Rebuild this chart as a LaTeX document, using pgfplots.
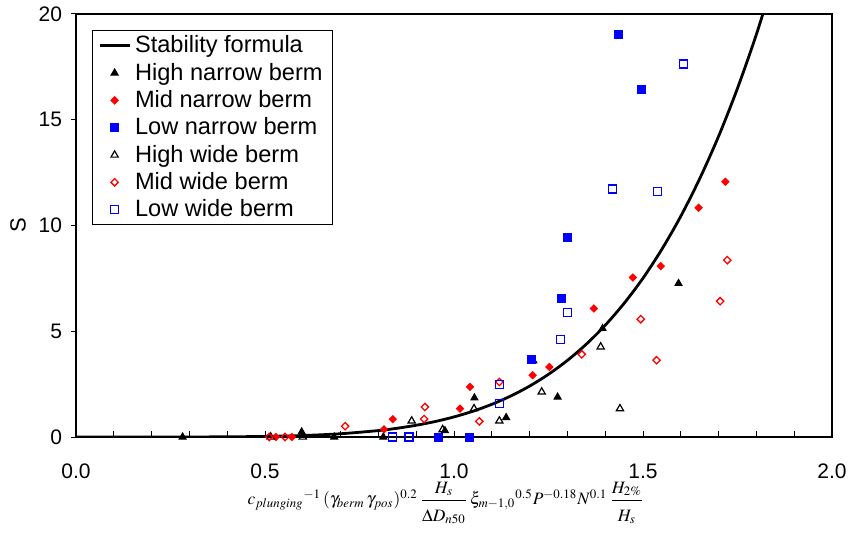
\documentclass[border=0pt]{standalone}
\usepackage{amsmath}
\usepackage{mathptmx}
\usepackage[no-math]{fontspec}
\setmainfont{Liberation Sans}
\usepackage{pgfplots}
\pgfplotsset{compat=1.18}
\definecolor{myred}{RGB}{255,0,0}
\definecolor{myblue}{RGB}{0,0,255}
\pgfplotsset{
  mylineleg/.style={legend image code/.code={\draw[##1] (0pt,0pt) -- (15pt,0pt);}},
  mymarkleg/.style={legend image code/.code={\draw[mark repeat=2,mark phase=2,##1] plot coordinates {(0pt,0pt)(7.5pt,0pt)(15pt,0pt)};}},
}
\begin{document}
\begin{tikzpicture}
\begin{axis}[
  scale only axis,
  width=378pt, height=211.5pt,
  xmin=0, xmax=2, ymin=0, ymax=20,
  xtick={0,0.5,1,1.5,2},
  minor x tick num=4,
  ytick={0,5,10,15,20},
  xtick pos=bottom, ytick pos=left,
  tick align=inside,
  major tick length=3pt, minor tick length=3pt,
  ytick style={xshift=-2.5pt},
  tick style={black, line width=0.5pt},
  axis line style={black, line width=0.6pt},
  /pgf/number format/assume math mode=true,
  xticklabel style={/pgf/number format/fixed, /pgf/number format/fixed zerofill, /pgf/number format/precision=1, /tikz/yshift=-10pt},
  yticklabel style={/tikz/xshift=-3.5pt},
  tick label style={font=\fontsize{10.5}{12}\selectfont},
  ylabel={S},
  ylabel style={font=\fontsize{11}{13}\selectfont, at={(axis description cs:0,0.5)}, yshift=29pt, anchor=center},
  xlabel={$c_{plunging}{}^{-1}\,(\gamma_{berm}\,\gamma_{pos})^{0.2}\,\dfrac{\rule[-2.5pt]{0pt}{6pt}H_s}{\rule{0pt}{9pt}\Delta D_{n50}}\,\xi_{m-1,0}{}^{0.5}P^{-0.18}N^{0.1}\,\dfrac{\rule[-2.5pt]{0pt}{6pt}H_{2\%}}{\rule{0pt}{9pt}H_s}$},
  xlabel style={font=\fontsize{8.7}{10}\selectfont, at={(axis description cs:0.5,0)}, anchor=center, yshift=-33pt, xshift=-4pt},
  legend style={at={(rel axis cs:0.0208,0.962)}, anchor=north west, draw=black, line width=0.5pt,
    font=\fontsize{11.8}{13.5}\selectfont, cells={anchor=west}, row sep=-0.4pt, inner xsep=3pt, inner ysep=0.6pt},
  legend cell align=left,
]
\addplot[black, line width=1.4pt, smooth, mark=none, mylineleg]
  coordinates {
  (0,0) (0.1,0.00001) (0.2,0.00026) (0.3,0.002) (0.4,0.0089) (0.5,0.0277)
  (0.6,0.070) (0.7,0.154) (0.8,0.304) (0.85,0.415) (0.9,0.555) (0.95,0.731)
  (1.0,0.95) (1.05,1.218) (1.1,1.545) (1.15,1.938) (1.2,2.407) (1.25,2.965)
  (1.3,3.621) (1.35,4.390) (1.4,5.284) (1.45,6.320) (1.5,7.51) (1.55,8.880)
  (1.6,10.44) (1.65,12.215) (1.7,14.22) (1.75,16.49) (1.8,19.04) (1.85,21.9)
  };
\addlegendentry{Stability formula}
\addplot[only marks, mark=triangle*, mark size=2.1pt, black, mark options={fill=black}, mymarkleg]
  coordinates {
  (0.282,0) (0.597,0.24) (0.683,0) (0.813,0) (0.976,0.30) (1.054,1.85)
  (1.138,0.92) (1.210,3.60) (1.274,1.89) (1.393,5.13) (1.594,7.26)
  };
\addlegendentry{High narrow berm}
\addplot[only marks, mark=square*, mark size=1.3pt, myred, mark options={fill=myred, rotate=45}, mymarkleg]
  coordinates {
  (0.529,0) (0.571,0) (0.815,0.36) (0.838,0.84) (1.016,1.34) (1.042,2.37)
  (1.208,2.92) (1.252,3.31) (1.370,6.08) (1.473,7.54) (1.547,8.08)
  (1.647,10.84) (1.718,12.07)
  };
\addlegendentry{Mid narrow berm}
\addplot[only marks, mark=square*, mark size=2pt, myblue, mark options={fill=myblue}, mymarkleg]
  coordinates {
  (0.960,0) (1.042,0) (1.205,3.68) (1.285,6.55) (1.300,9.44) (1.497,16.44) (1.434,19.03)
  };
\addlegendentry{Low narrow berm}
\addplot[only marks, mark=triangle, mark size=2.1pt, black, mark options={fill=white, line width=0.6pt}, mymarkleg]
  coordinates {
  (0.515,0) (0.600,0) (0.888,0.76) (0.970,0.35) (1.053,1.34) (1.120,0.76)
  (1.232,2.13) (1.388,4.26) (1.439,1.34)
  };
\addlegendentry{High wide berm}
\addplot[only marks, mark=square, mark size=1.3pt, myred, mark options={draw=myred, fill=white, rotate=45, line width=0.65pt}, mymarkleg]
  coordinates {
  (0.511,0) (0.553,0) (0.712,0.51) (0.923,1.42) (0.921,0.85) (1.067,0.74)
  (1.120,2.60) (1.338,3.91) (1.494,5.57) (1.536,3.63) (1.704,6.42) (1.723,8.36)
  };
\addlegendentry{Mid wide berm}
\addplot[only marks, mark=square, mark size=2pt, myblue, mark options={draw=myblue, fill=white, line width=0.65pt}, mymarkleg]
  coordinates {
  (0.838,0) (0.881,0) (1.120,2.49) (1.120,1.58) (1.282,4.60) (1.301,5.87)
  (1.420,11.72) (1.539,11.60) (1.607,17.64)
  };
\addlegendentry{Low wide berm}
\end{axis}
\pgfresetboundingbox
\path[use as bounding box] (-38pt,-49pt) rectangle (387pt,218.5pt);
\end{tikzpicture}
\end{document}
